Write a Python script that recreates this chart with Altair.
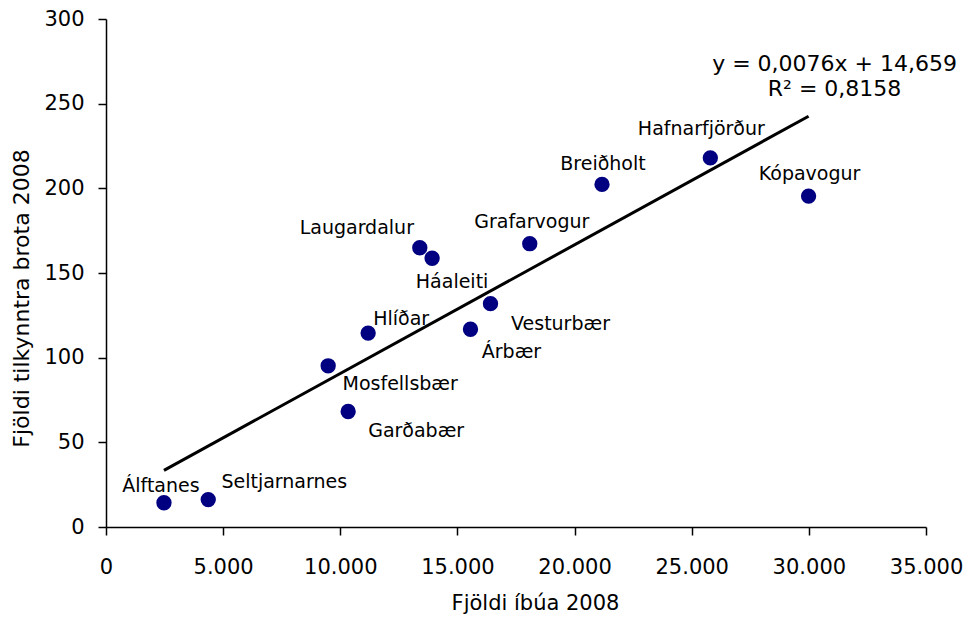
import altair as alt
import pandas as pd

# Data
places = ["Álftanes", "Seltjarnarnes", "Mosfellsbær", "Garðabær", "Hlíðar",
          "Laugardalur", "Háaleiti", "Árbær", "Vesturbær", "Grafarvogur",
          "Breiðholt", "Hafnarfjörður", "Kópavogur"]
residents = [2474, 4364, 9483, 10336, 11189, 13394, 13919, 15557, 16411,
             18087, 21171, 25795, 29988]
offences = [14.3, 16.2, 95.2, 68.2, 114.5, 164.9, 158.7, 116.8, 131.9,
            167.3, 202.3, 218.0, 195.4]

# Trend line as given in the chart
slope = 0.0076
intercept = 14.659
eq_line1 = "y = 0,0076x + 14,659"
eq_line2 = "R² = 0,8158"

x_ticks = [0, 5000, 10000, 15000, 20000, 25000, 30000, 35000]
y_ticks = [0, 50, 100, 150, 200, 250, 300]

# Label placement offsets (pixels) relative to each point
label_dx = [-3, 76, 72, 68, 33, -63, 20, 41, 70, 2, 1, -9, 1]
label_dy = [-17, -18, 18, 19, -14, -20, 24, 23, 20, -22, -20, -29, -22]

FONT = "DejaVu Sans"
W, H = 820, 508

df = pd.DataFrame({"place": places, "res": residents, "off": offences})
x0, x1 = min(residents), max(residents)
trend = pd.DataFrame({"res": [x0, x1],
                      "off": [slope * x0 + intercept, slope * x1 + intercept]})

xs = alt.Scale(domain=[0, 35000], nice=False, zero=False)
ys = alt.Scale(domain=[0, 300], nice=False)

X = alt.X("res:Q", scale=xs,
          axis=alt.Axis(values=x_ticks, title="Fjöldi íbúa 2008",
                        labelExpr="replace(format(datum.value, ','), ',', '.')",
                        labelFlush=False, labelPadding=21, titlePadding=15,
                        titleX=W / 2 + 19, titleFontSize=21))
Y = alt.Y("off:Q", scale=ys,
          axis=alt.Axis(values=y_ticks, title="Fjöldi tilkynntra brota 2008",
                        labelPadding=14, titlePadding=10, titleY=H / 2 + 25))

line = alt.Chart(trend).mark_line(color="black", strokeWidth=3).encode(x=X, y=Y)
pts = alt.Chart(df).mark_circle(color="#000080", opacity=1, size=235).encode(
    x=alt.X("res:Q", scale=xs), y=alt.Y("off:Q", scale=ys))

layers = [line, pts]
for i, p in enumerate(places):
    layers.append(
        alt.Chart(df[df.place == p]).mark_text(
            font=FONT, fontSize=19, color="black", align="center",
            baseline="middle", dx=label_dx[i], dy=label_dy[i]
        ).encode(x=alt.X("res:Q", scale=xs), y=alt.Y("off:Q", scale=ys),
                 text="place:N")
    )

end = trend.iloc[[1]]
for txt, dy in [(eq_line1, -52), (eq_line2, -27)]:
    layers.append(
        alt.Chart(end).mark_text(
            font=FONT, fontSize=22, color="black", align="center",
            baseline="middle", dx=26, dy=dy, text=txt
        ).encode(x=alt.X("res:Q", scale=xs), y=alt.Y("off:Q", scale=ys))
    )

chart = alt.layer(*layers).properties(
    width=W, height=H,
    padding={"left": 98, "top": 11, "right": 37, "bottom": 87},
    autosize=alt.AutoSizeParams(type="none"),
    background="white",
).configure_view(stroke=None).configure_axis(
    grid=False, domainColor="black", domainWidth=1.5, tickColor="black",
    tickWidth=1.5, tickSize=8, labelColor="black", titleColor="black",
    labelFont=FONT, titleFont=FONT, labelFontSize=21, titleFontSize=22,
    titleFontWeight="normal"
)

chart.save("out.html", embed_options={"renderer": "svg", "actions": False})
